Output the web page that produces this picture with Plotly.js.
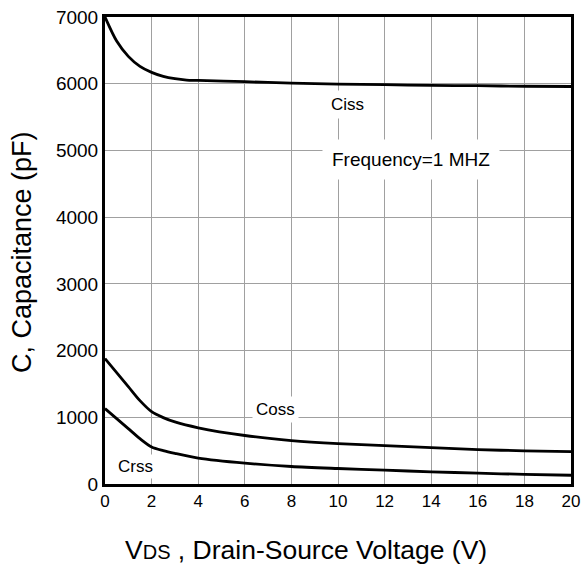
<!DOCTYPE html>
<html><head><meta charset="utf-8">
<script src="https://cdn.plot.ly/plotly-3.0.1.min.js"></script>
<style>html,body{margin:0;padding:0;background:#fff}</style>
</head><body>
<div id="chart" style="width:582px;height:570px"></div>
<script>
const vds = [0, 0.5, 1, 1.5, 2, 2.5, 3, 3.5, 4, 6, 8, 10, 12, 14, 16, 18, 20];
const ciss = [7000, 6640, 6410, 6260, 6170, 6110, 6075, 6055, 6050, 6030, 6010, 5995, 5985, 5975, 5970, 5962, 5958];
const vds2 = [0, 1, 1.5, 2, 2.5, 3, 4, 6, 8, 10, 12, 14, 16, 18, 20];
const coss = [1880, 1460, 1250, 1085, 995, 930, 843, 727, 651, 605, 575, 545, 515, 498, 485];
const crss = [1130, 830, 680, 555, 500, 459, 389, 313, 262, 232, 207, 183, 162, 145, 131];
const xTicks = [0, 2, 4, 6, 8, 10, 12, 14, 16, 18, 20];
const yTicks = [0, 1000, 2000, 3000, 4000, 5000, 6000, 7000];

const lineStyle = {color: '#000', width: 2.8, shape: 'spline', smoothing: 0.8};
const traces = [
  {x: vds, y: ciss, mode: 'lines', line: lineStyle, hoverinfo: 'skip'},
  {x: vds2, y: coss, mode: 'lines', line: lineStyle, hoverinfo: 'skip'},
  {x: vds2, y: crss, mode: 'lines', line: lineStyle, hoverinfo: 'skip'}
];
const font = {family: 'Liberation Sans, Arial, sans-serif', color: '#000'};
const ann = (x, y, text, size, pad) => ({x, y, xref: 'x', yref: 'y', text, showarrow: false,
  font: Object.assign({}, font, {size}), bgcolor: '#fff', borderpad: pad});
const layout = {
  width: 582, height: 570,
  margin: {l: 105, r: 11, t: 17, b: 86},
  paper_bgcolor: '#fff', plot_bgcolor: '#fff',
  showlegend: false,
  font: font,
  xaxis: {range: [0, 20], tickvals: xTicks, ticktext: xTicks.map(String),
    showgrid: true, gridcolor: '#a0a0a0', gridwidth: 1, zeroline: false,
    showline: true, mirror: true, linecolor: '#000', linewidth: 3,
    ticks: '', tickfont: Object.assign({}, font, {size: 17})},
  yaxis: {range: [0, 7000], tickvals: yTicks, ticktext: yTicks.map(String),
    showgrid: true, gridcolor: '#a0a0a0', gridwidth: 1, zeroline: false,
    showline: true, mirror: true, linecolor: '#000', linewidth: 3,
    ticks: '', tickfont: Object.assign({}, font, {size: 19})},
  annotations: [
    ann(10.39, 5690, 'Ciss', 17, 4),
    ann(13.13, 4860, 'Frequency=1 MHZ', 19, 9),
    ann(7.3, 1110, 'Coss', 17, 3),
    ann(1.33, 255, 'Crss', 17, 2),
    {xref: 'paper', yref: 'paper', x: (123 - 105) / 466, y: (484 - 550) / 467,
      xanchor: 'left', yanchor: 'middle', showarrow: false,
      text: 'V<span style="font-size:20px">DS</span> , Drain-Source Voltage (V)',
      font: Object.assign({}, font, {size: 26.5})},
    {xref: 'paper', yref: 'paper', x: (22 - 105) / 466, y: (484 - 252) / 467,
      xanchor: 'center', yanchor: 'middle', showarrow: false, textangle: -90,
      text: 'C, Capacitance (pF)',
      font: Object.assign({}, font, {size: 27})}
  ]
};
Plotly.newPlot('chart', traces, layout, {staticPlot: true, displayModeBar: false});
</script>
</body></html>
